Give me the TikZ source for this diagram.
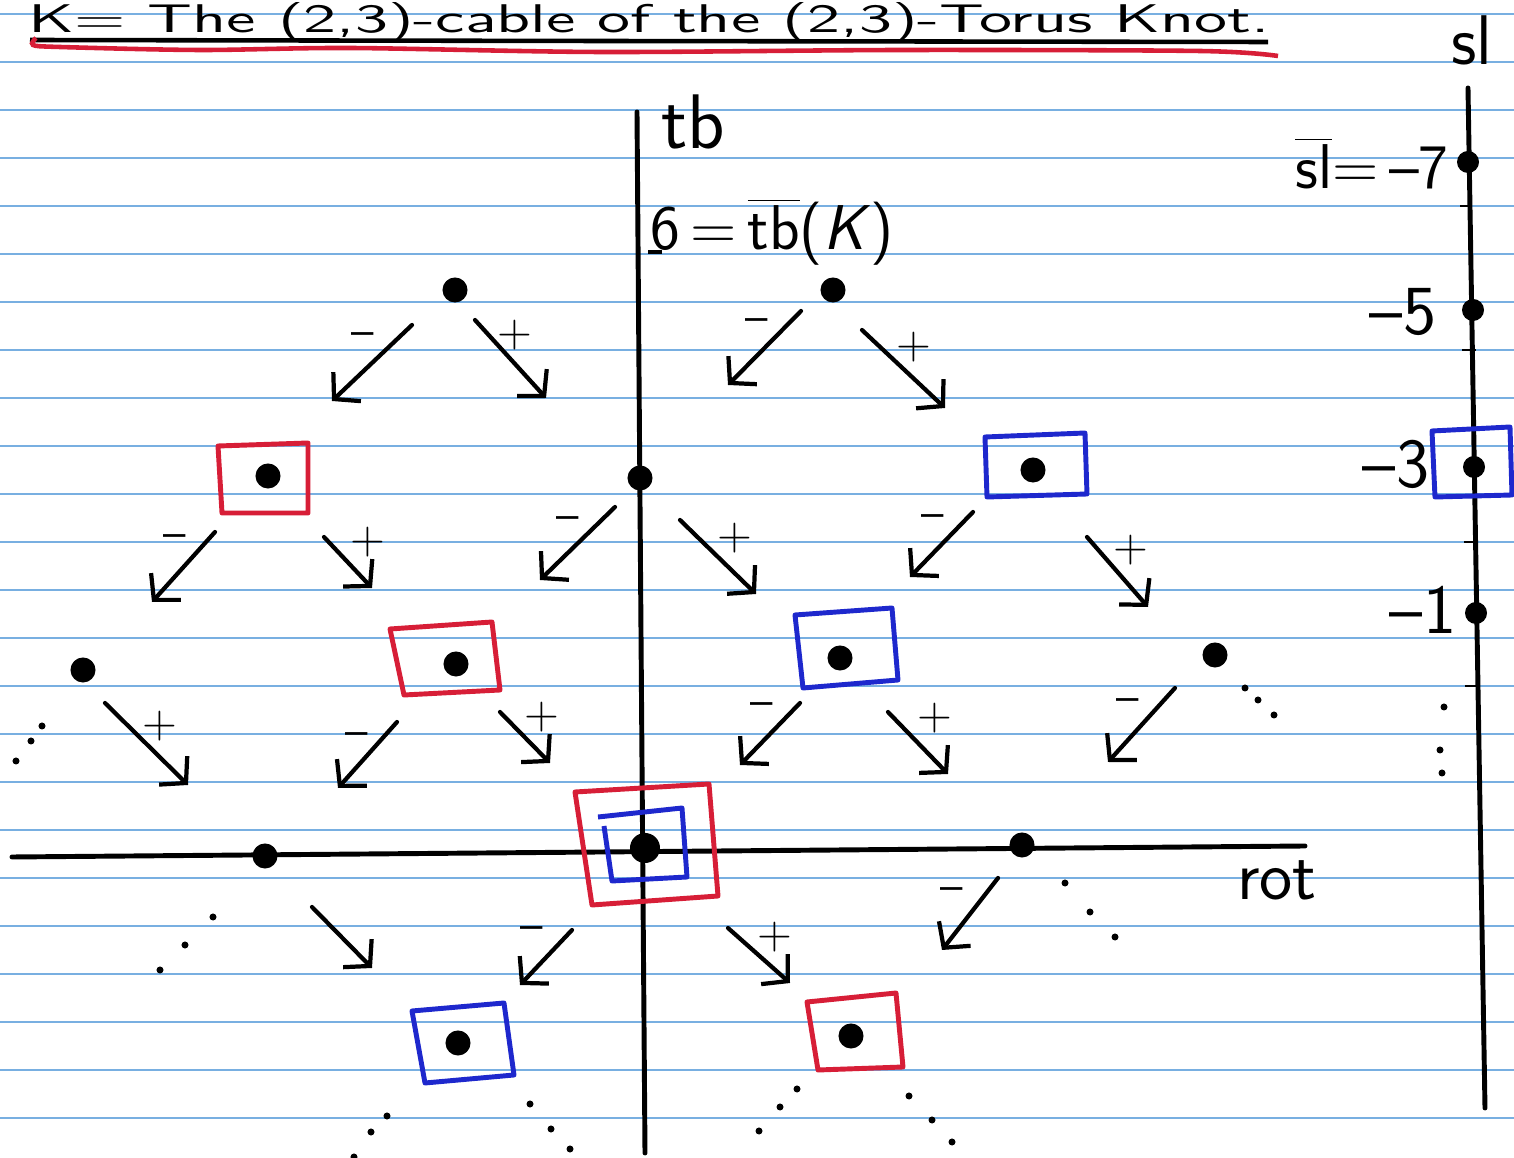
\documentclass[tikz,border=0pt]{standalone}
\usepackage{graphicx}
\usetikzlibrary{arrows.meta}
\definecolor{ruleblue}{RGB}{120,175,225}
\definecolor{penred}{RGB}{215,30,55}
\definecolor{penblue}{RGB}{30,40,205}
\begin{document}
\begin{tikzpicture}[x=0.01cm,y=-0.01cm,
  dot/.style={circle,fill=black,inner sep=0pt,minimum size=0.25cm},
  smalldot/.style={circle,fill=black,inner sep=0pt,minimum size=0.22cm},
  arr/.style={line width=1.2pt,line cap=round,-{Straight Barb[length=1.8mm,width=4mm]}},
  pm/.style={font=\sffamily\fontsize{13}{15}\selectfont,inner sep=0pt},
  lab/.style={font=\sffamily\fontsize{20}{24}\selectfont,inner sep=0pt},
  redbox/.style={draw=penred,line width=1.4pt,line join=round},
  bluebox/.style={draw=penblue,line width=1.4pt,line join=round},
  axis/.style={line width=1.4pt,line cap=round},
  rule/.style={ruleblue,line width=0.7pt}]

\fill[white] (0,0) rectangle (1514,1158);
\useasboundingbox (0,0) rectangle (1514,1158);
\foreach \k in {0,...,23} \draw[rule] (0,14+48*\k) -- (1514,14+48*\k);

% title
\node[anchor=base west,inner sep=0pt] (title) at (28,33)
  {\resizebox{12.4cm}{0.3cm}{\sffamily K= The (2,3)-cable of the (2,3)-Torus Knot.}};
\draw[line width=1.3pt] (30,40) -- (600,41) -- (1268,42);
\draw[penred,line width=1.3pt] plot[smooth] coordinates
  {(36,38) (33,45) (60,47) (200,50) (350,48) (600,52) (900,50) (1200,51) (1278,56)};

% axes
\draw[axis] (637,112) -- (645,1153);
\draw[axis] (12,857) -- (1305,846);
\draw[axis] (1468,88) -- (1485,1108);
\draw[line width=0.9pt] (648,252) -- (662,252);
\draw[line width=0.8pt] (1460,206) -- (1472,206);
\draw[line width=0.8pt] (1462,350) -- (1476,350);
\draw[line width=0.8pt] (1464,542) -- (1478,542);
\draw[line width=0.8pt] (1465,686) -- (1480,686);

% axis labels
\node[lab,font=\sffamily\fontsize{22}{26}\selectfont] (tb) at (693,122) {tb};
\node[lab,font=\sffamily\fontsize{18}{22}\selectfont] (tbK) at (772,232) {6\,=\,$\overline{\mbox{tb}}$(\textit{K})};
\node[lab,font=\sffamily\fontsize{20}{24}\selectfont] (sl) at (1472,40) {sl};
\node[lab,font=\sffamily\fontsize{18}{22}\selectfont] (slbar) at (1372,163) {$\overline{\mbox{sl}}$=\,–7};
\node[lab] (m5) at (1403,312) {–5};
\node[lab] (m3) at (1396,464) {–3};
\node[lab] (m1) at (1423,610) {–1};
\node[lab] (rot) at (1277,880) {rot};

% sl axis
\node[smalldot] (s7) at (1468,162) {};
\node[smalldot] (s5) at (1473,310) {};
\node[smalldot] (s3) at (1474,467) {};
\node[smalldot] (s1) at (1476,613) {};
\draw[bluebox] (1432,431) -- (1510,427) -- (1512,495) -- (1435,497) -- cycle;
\foreach \p in {(1444,707),(1440,750),(1442,773)} \fill \p circle (0.035cm);

% boxes
\draw[redbox] (218,446) -- (308,443) -- (308,513) -- (222,513) -- cycle;
\draw[bluebox] (985,437) -- (1085,433) -- (1087,494) -- (987,497) -- cycle;
\draw[redbox] (390,629) -- (492,622) -- (500,690) -- (404,695) -- cycle;
\draw[bluebox] (795,615) -- (892,608) -- (898,680) -- (803,688) -- cycle;
\draw[redbox] (575,792) -- (709,784) -- (718,896) -- (592,905) -- cycle;
\draw[bluebox] (598,817) -- (682,808) -- (687,877) -- (612,881) -- (604,826);
\draw[bluebox] (412,1011) -- (504,1003) -- (514,1075) -- (425,1083) -- cycle;
\draw[redbox] (807,1002) -- (896,993) -- (903,1067) -- (818,1070) -- cycle;

% tree vertices
\node[dot] (A1) at (455,290) {};
\node[dot] (A2) at (833,290) {};
\node[dot] (B1) at (268,476) {};
\node[dot] (B2) at (640,478) {};
\node[dot] (B3) at (1033,470) {};
\node[dot] (C1) at (83,670) {};
\node[dot] (C2) at (456,664) {};
\node[dot] (C3) at (840,658) {};
\node[dot] (C4) at (1215,655) {};
\node[dot] (D1) at (265,856) {};
\node[dot,minimum size=0.3cm] (D2) at (645,848) {};
\node[dot] (D3) at (1022,845) {};
\node[dot] (E1) at (458,1043) {};
\node[dot] (E2) at (851,1036) {};

% arrows: tail / head coordinates
\foreach \n/\tx/\ty/\hx/\hy in {
  A1m/412/325/332/401, A1p/475/320/546/398,
  A2m/801/311/728/385, A2p/862/330/945/408,
  B1m/215/532/152/602, B1p/324/537/372/588,
  B2m/615/507/540/580, B2p/680/520/756/594,
  B3m/973/512/910/577, B3p/1087/537/1148/607,
  C1p/105/703/188/785,
  C2m/397/722/338/788, C2p/500/712/550/763,
  C3m/800/703/740/765, C3p/888/712/948/774,
  C4m/1175/688/1108/762,
  D1p/312/907/372/968,
  D2m/572/930/520/985, D2p/728/928/790/983,
  D3m/998/878/942/950}
{
  \coordinate (\n-t) at (\tx,\ty);
  \coordinate (\n-h) at (\hx,\hy);
  \draw[arr] (\n-t) -- (\n-h);
}

% sign labels
\foreach \n/\x/\y/\s in {
  lA1m/363/340/–, lA1p/515/335/+,
  lA2m/757/326/–, lA2p/914/347/+,
  lB1m/175/542/–, lB1p/368/542/+,
  lB2m/568/524/–, lB2p/735/538/+,
  lB3m/933/522/–, lB3p/1131/550/+,
  lC1p/160/726/+,
  lC2m/357/740/–, lC2p/542/717/+,
  lC3m/762/710/–, lC3p/935/718/+,
  lC4m/1128/706/–,
  lD2m/532/934/–, lD2p/775/937/+,
  lD3m/952/895/–}
{ \node[pm] (\n) at (\x,\y) {\s}; }

% continuation dots
\foreach \p in {(42,726),(31,741),(16,761),
  (1245,688),(1258,700),(1274,715),
  (213,917),(185,945),(160,970),
  (1065,883),(1090,912),(1115,937),
  (387,1116),(371,1132),(354,1157),
  (530,1104),(551,1129),(570,1149),
  (797,1089),(780,1107),(759,1131),
  (909,1096),(932,1120),(952,1142)}
  \fill \p circle (0.035cm);
\end{tikzpicture}
\end{document}
